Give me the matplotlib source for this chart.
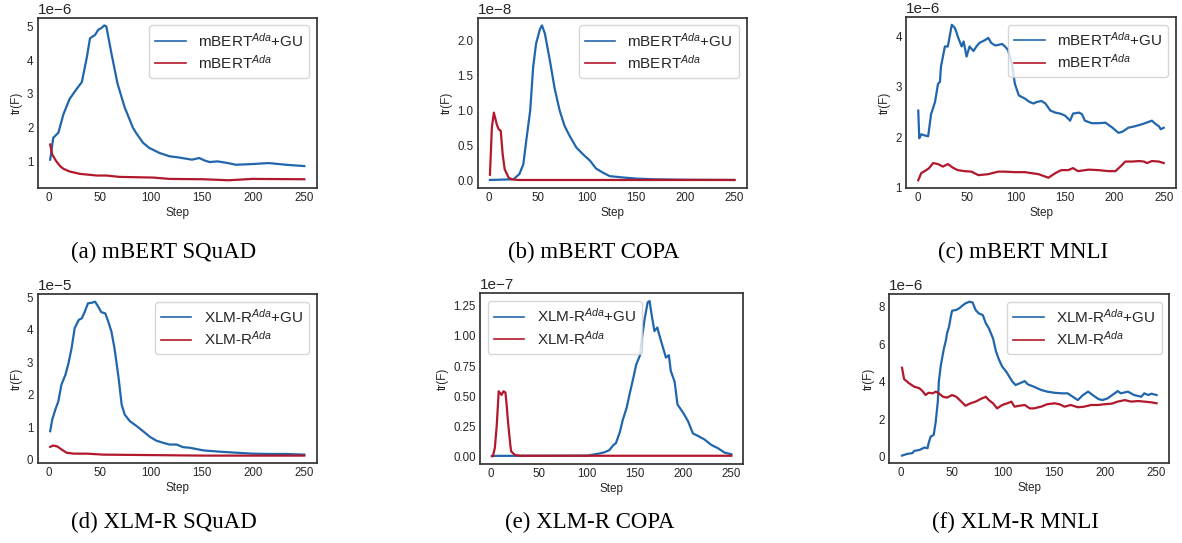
import matplotlib
matplotlib.use("Agg")
import matplotlib.pyplot as plt
import numpy as np

plt.rcParams.update({
    "font.family": ["Liberation Sans", "DejaVu Sans"],
    "mathtext.fontset": "custom",
    "mathtext.rm": "Liberation Sans",
    "mathtext.it": "Liberation Sans:italic",
    "axes.edgecolor": "0.2",
    "axes.linewidth": 1.25,
    "text.color": "0.15",
    "axes.labelcolor": "0.15",
    "xtick.color": "0.15",
    "ytick.color": "0.15",
    "xtick.major.size": 0,
    "ytick.major.size": 0,
})

BLUE = "#2166ac"
RED = "#b2182b"

# ---------------- data ----------------
# (a) mBERT SQuAD  (x1e-6)
a_gu_steps = [1, 4, 9, 14, 20, 27, 32, 37, 40, 45, 48, 51, 54, 56, 61, 67, 74, 82, 85, 92, 98, 108, 118, 126, 134, 140, 147, 152, 157, 165, 175, 183, 199, 215, 232, 250]
a_gu_vals = [1.05, 1.7, 1.85, 2.4, 2.85, 3.15, 3.35, 4.1, 4.65, 4.75, 4.9, 4.95, 5.03, 5.0, 4.2, 3.3, 2.6, 2.0, 1.85, 1.55, 1.4, 1.25, 1.15, 1.12, 1.08, 1.05, 1.1, 1.03, 0.98, 1.0, 0.95, 0.9, 0.92, 0.95, 0.9, 0.86]
a_ada_steps = [1, 3, 7, 11, 14, 20, 30, 47, 56, 69, 102, 118, 151, 176, 199, 250]
a_ada_vals = [1.5, 1.2, 1.0, 0.85, 0.78, 0.7, 0.63, 0.58, 0.58, 0.54, 0.52, 0.48, 0.47, 0.44, 0.48, 0.47]

# (b) mBERT COPA  (x1e-8)
b_gu_steps = [1, 25, 31, 35, 38, 42, 45, 48, 52, 54, 57, 62, 67, 72, 77, 82, 89, 96, 103, 109, 116, 123, 137, 150, 167, 200, 250]
b_gu_vals = [0.005, 0.015, 0.09, 0.23, 0.57, 1.0, 1.62, 1.96, 2.17, 2.22, 2.1, 1.72, 1.31, 1.0, 0.78, 0.64, 0.47, 0.37, 0.28, 0.17, 0.11, 0.06, 0.04, 0.025, 0.015, 0.008, 0.005]
b_ada_steps = [1, 3, 5, 8, 10, 12, 14, 16, 20, 23, 30, 250]
b_ada_vals = [0.08, 0.76, 0.97, 0.8, 0.73, 0.71, 0.37, 0.16, 0.04, 0.015, 0.005, 0.005]

# (c) mBERT MNLI  (x1e-6)
c_gu_steps = [1, 2, 4, 7, 11, 14, 18, 21, 23, 24, 28, 31, 35, 38, 40, 41, 45, 47, 50, 53, 57, 60, 63, 69, 72, 75, 79, 82, 86, 89, 92, 96, 99, 103, 106, 109, 114, 118, 121, 126, 130, 135, 140, 145, 150, 155, 158, 164, 167, 170, 177, 184, 191, 198, 204, 208, 214, 221, 228, 231, 238, 242, 245, 247, 250]
c_gu_vals = [2.53, 1.98, 2.06, 2.04, 2.02, 2.46, 2.7, 3.06, 3.1, 3.4, 3.8, 3.8, 4.23, 4.17, 4.07, 4.0, 3.8, 3.9, 3.6, 3.8, 3.71, 3.8, 3.87, 3.93, 3.97, 3.87, 3.82, 3.83, 3.85, 3.8, 3.73, 3.46, 3.06, 2.83, 2.8, 2.77, 2.7, 2.67, 2.7, 2.72, 2.67, 2.53, 2.49, 2.47, 2.43, 2.33, 2.47, 2.49, 2.46, 2.33, 2.28, 2.28, 2.29, 2.19, 2.09, 2.11, 2.19, 2.22, 2.26, 2.28, 2.33, 2.26, 2.22, 2.16, 2.19]
c_ada_steps = [1, 4, 9, 12, 16, 21, 26, 31, 36, 41, 48, 55, 62, 72, 82, 89, 99, 109, 116, 123, 133, 140, 146, 153, 158, 163, 174, 184, 194, 201, 206, 211, 218, 225, 230, 233, 238, 245, 250]
c_ada_vals = [1.15, 1.29, 1.35, 1.39, 1.49, 1.47, 1.42, 1.47, 1.4, 1.35, 1.33, 1.32, 1.25, 1.27, 1.32, 1.32, 1.31, 1.31, 1.29, 1.27, 1.2, 1.29, 1.35, 1.35, 1.39, 1.33, 1.36, 1.35, 1.33, 1.33, 1.42, 1.52, 1.52, 1.53, 1.52, 1.49, 1.53, 1.52, 1.49]

# (d) XLM-R SQuAD  (x1e-5)
d_gu_steps = [1, 3, 6, 9, 12, 16, 19, 22, 25, 29, 32, 35, 38, 42, 45, 48, 51, 55, 58, 61, 64, 68, 71, 74, 79, 86, 92, 99, 105, 112, 118, 125, 131, 138, 151, 167, 183, 199, 216, 232, 250]
d_gu_vals = [0.88, 1.24, 1.54, 1.8, 2.31, 2.62, 2.98, 3.44, 4.05, 4.3, 4.35, 4.56, 4.81, 4.83, 4.86, 4.71, 4.54, 4.5, 4.24, 3.94, 3.43, 2.52, 1.7, 1.39, 1.19, 1.03, 0.88, 0.7, 0.59, 0.52, 0.47, 0.47, 0.39, 0.37, 0.29, 0.25, 0.22, 0.19, 0.18, 0.18, 0.16]
d_ada_steps = [1, 4, 8, 12, 17, 24, 37, 53, 86, 118, 151, 250]
d_ada_vals = [0.4, 0.44, 0.41, 0.32, 0.22, 0.19, 0.19, 0.16, 0.15, 0.14, 0.13, 0.13]

# (e) XLM-R COPA  (x1e-7)
e_gu_steps = [1, 100, 111, 118, 123, 127, 130, 134, 137, 141, 144, 148, 151, 155, 157, 160, 163, 165, 167, 170, 173, 175, 179, 182, 185, 187, 191, 194, 200, 205, 210, 215, 222, 229, 236, 243, 250]
e_gu_vals = [0.003, 0.005, 0.02, 0.033, 0.05, 0.09, 0.11, 0.2, 0.3, 0.4, 0.51, 0.65, 0.76, 0.84, 0.98, 1.15, 1.28, 1.29, 1.18, 1.04, 1.07, 1.01, 0.9, 0.82, 0.84, 0.71, 0.62, 0.43, 0.36, 0.29, 0.19, 0.17, 0.14, 0.095, 0.067, 0.03, 0.017]
e_ada_steps = [1, 2, 4, 6, 8, 9, 11, 13, 15, 16, 18, 20, 21, 25, 30, 250]
e_ada_vals = [0.0, 0.0, 0.07, 0.26, 0.54, 0.53, 0.51, 0.54, 0.53, 0.45, 0.26, 0.1, 0.04, 0.01, 0.004, 0.004]

# (f) XLM-R MNLI  (x1e-6)
f_gu_steps = [1, 6, 11, 13, 18, 23, 26, 27, 29, 32, 34, 36, 37, 39, 42, 44, 45, 47, 49, 50, 54, 57, 60, 63, 67, 70, 73, 76, 80, 83, 86, 90, 93, 96, 99, 103, 106, 109, 112, 116, 121, 124, 130, 137, 143, 150, 157, 163, 168, 173, 178, 183, 188, 193, 197, 202, 209, 212, 215, 222, 228, 235, 238, 242, 245, 250]
f_gu_vals = [0.07, 0.16, 0.2, 0.32, 0.37, 0.5, 0.46, 0.73, 1.08, 1.17, 1.88, 2.94, 4.0, 4.89, 5.77, 6.21, 6.57, 6.92, 7.54, 7.77, 7.81, 7.9, 8.04, 8.16, 8.25, 8.21, 7.81, 7.63, 7.54, 7.1, 6.83, 6.3, 5.59, 5.15, 4.8, 4.53, 4.26, 4.0, 3.82, 3.91, 4.03, 3.86, 3.73, 3.56, 3.47, 3.41, 3.38, 3.38, 3.2, 3.02, 3.29, 3.47, 3.27, 3.08, 3.02, 3.11, 3.38, 3.5, 3.38, 3.47, 3.29, 3.2, 3.38, 3.29, 3.36, 3.29]
f_ada_steps = [1, 3, 8, 13, 18, 21, 24, 27, 31, 34, 37, 41, 45, 50, 54, 59, 63, 68, 73, 78, 83, 86, 90, 94, 99, 104, 108, 111, 116, 121, 126, 130, 137, 143, 150, 155, 160, 166, 173, 179, 186, 193, 199, 206, 212, 219, 225, 232, 238, 245, 250]
f_ada_vals = [4.74, 4.14, 3.91, 3.73, 3.65, 3.5, 3.29, 3.41, 3.38, 3.47, 3.38, 3.2, 3.15, 3.29, 3.2, 2.94, 2.72, 2.85, 2.94, 3.08, 3.2, 3.02, 2.85, 2.58, 2.76, 2.85, 2.94, 2.67, 2.72, 2.76, 2.58, 2.58, 2.67, 2.8, 2.85, 2.8, 2.67, 2.76, 2.64, 2.67, 2.76, 2.76, 2.8, 2.83, 2.94, 3.02, 2.94, 2.97, 2.94, 2.9, 2.85]

scales = [1e-6, 1e-8, 1e-6, 1e-5, 1e-7, 1e-6]
yticks_list = [[1, 2, 3, 4, 5], [0.0, 0.5, 1.0, 1.5, 2.0], [1, 2, 3, 4],
               [0, 1, 2, 3, 4, 5], [0.0, 0.25, 0.5, 0.75, 1.0, 1.25], [0, 2, 4, 6, 8]]
xticks = [0, 50, 100, 150, 200, 250]
captions = ["(a) mBERT SQuAD", "(b) mBERT COPA", "(c) mBERT MNLI",
            "(d) XLM-R SQuAD", "(e) XLM-R COPA", "(f) XLM-R MNLI"]
models = ["mBERT", "mBERT", "mBERT", "XLM-R", "XLM-R", "XLM-R"]
legend_locs = ["upper right", "upper right", "upper right", "upper right", "upper left", "upper right"]

series = [
    (a_gu_steps, a_gu_vals, a_ada_steps, a_ada_vals),
    (b_gu_steps, b_gu_vals, b_ada_steps, b_ada_vals),
    (c_gu_steps, c_gu_vals, c_ada_steps, c_ada_vals),
    (d_gu_steps, d_gu_vals, d_ada_steps, d_ada_vals),
    (e_gu_steps, e_gu_vals, e_ada_steps, e_ada_vals),
    (f_gu_steps, f_gu_vals, f_ada_steps, f_ada_vals),
]

# layout in pixels (left, top, right, bottom)
W, H = 1182, 543
boxes = [
    (37.5, 17.7, 317, 188), (477.7, 17.7, 746.7, 187.7), (906, 17, 1176, 188),
    (37.5, 294, 317, 463.3), (480, 293.3, 743.3, 464), (889.3, 294, 1169.3, 463.3),
]
caption_pos = [(163.8, 252), (593.3, 252), (1023, 252), (163.8, 522), (589.5, 522), (1015.5, 522)]

fig = plt.figure(figsize=(W / 100, H / 100), dpi=100)
for i in range(6):
    l, t, r, b = boxes[i]
    ax = fig.add_axes([l / W, 1 - b / H, (r - l) / W, (b - t) / H])
    gs, gv, as_, av = series[i]
    sc = scales[i]
    m = models[i]
    ax.plot(gs, np.array(gv) * sc, color=BLUE, lw=1.6, label=m + "$^{Ada}$+GU")
    ax.plot(as_, np.array(av) * sc, color=RED, lw=1.6, label=m + "$^{Ada}$")
    ax.set_xticks(xticks)
    ax.set_yticks(np.array(yticks_list[i]) * sc)
    ax.tick_params(labelsize=8.3, pad=3)
    ax.yaxis.get_offset_text().set_fontsize(11)
    ax.set_xlabel("Step", fontsize=8.5, labelpad=2)
    ax.set_ylabel("tr(F)", fontsize=8.5, labelpad=3)
    leg = ax.legend(loc=legend_locs[i], fontsize=11, framealpha=0.8, labelspacing=0.3)
    for ln in leg.get_lines():
        ln.set_linewidth(1.2)
    fig.text(caption_pos[i][0] / W, 1 - caption_pos[i][1] / H, captions[i],
             ha="center", va="center", fontsize=16.5, family="Liberation Serif", color="black")

fig.savefig("out.png", dpi=100)
